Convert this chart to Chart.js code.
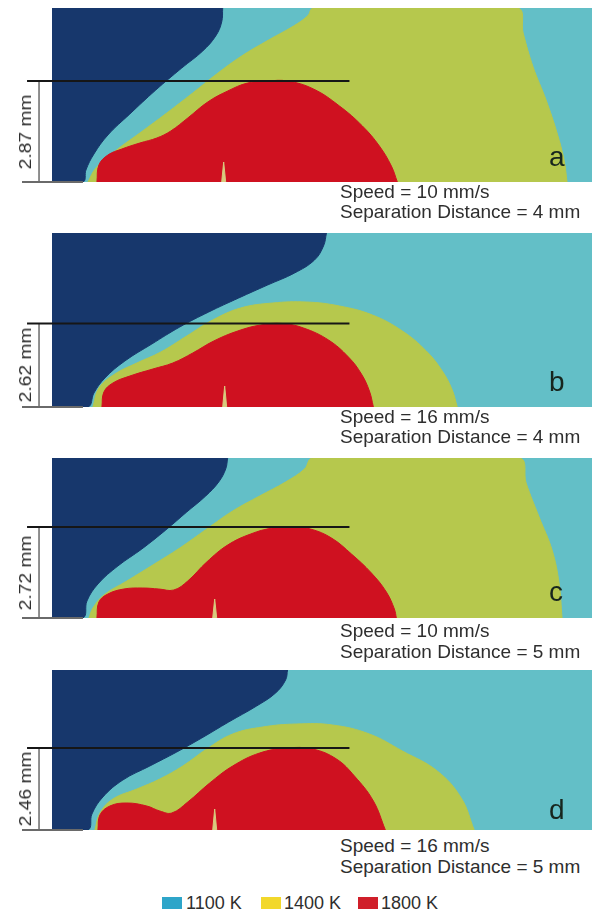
<!DOCTYPE html>
<html>
<head>
<meta charset="utf-8">
<script src="https://cdn.jsdelivr.net/npm/chart.js@4.4.0/dist/chart.umd.min.js"></script>
<style>
  body { margin: 0; background: #fff; width: 601px; height: 911px; position: relative; overflow: hidden;
         font-family: "Liberation Sans", Arial, sans-serif; color: #333; }
  canvas { position: absolute; }
  .txt { position: absolute; white-space: nowrap; }
  .cond { font-size: 19px; line-height: 19px; left: 340px; color: #2e2e2e; }
  .letter { font-size: 28px; line-height: 28px; left: 549px; color: #17261e; }
  .dim { font-size: 16px; line-height: 16px; left: 26px; color: #2e2e2e; }
  .leg { font-size: 18px; line-height: 18px; top: 894px; color: #2e2e2e; }
  .sw { position: absolute; top: 897px; width: 20px; height: 12px; }
</style>
</head>
<body>
<script>
// ===== DATA ===== //
const PANEL_LABELS = ["a", "b", "c", "d"];
const SPEEDS = [10, 16, 10, 16];           // mm/s
const SEPARATIONS = [4, 4, 5, 5];          // mm
const MELT_DEPTHS = [2.87, 2.62, 2.72, 2.46]; // mm, measured depth
const MEASURE_LEVEL = [101, 83.5, 91, 82]; // height of the black reference line
const LEGEND_LABELS = ["1100 K", "1400 K", "1800 K"];

// isotherm boundaries [x, y]
const NAVY_A = [[0,0],[31,0],[34,12],[42,28],[56,47],[78,68],[104,92],[130,114],[151,131],[164,146],[170,160],[171,174]];
const OLIVE_A = [[36,0],[44,14],[62,30],[88,49],[115,69],[141,89],[165,108],[190,126],[217,142],[242,156],[256,166],[262,174],[466,174],[472,149],[482,115],[495,82],[506,49],[513,22],[516,0]];
const RED_A = [[45,0],[47,17],[56,27],[70,33],[88,39],[105,44],[119,51],[136,64],[156,80],[176,91],[196,99],[216,101],[236,101],[262,93],[288,76],[311,56],[328,36],[340,16],[346,0]];
const NOTCH_A = [[170,0],[172,20],[174,0]];

const NAVY_B = [[0,0],[36,0],[42,14],[53,29],[73,46],[100,63],[128,80],[157,95],[187,109],[216,122],[243,134],[263,147],[272,161],[275,174]];
const OLIVE_B = [[41,0],[47,19],[63,33],[85,44],[109,55],[135,71],[161,87],[189,99],[221,104],[255,105],[288,101],[321,92],[351,76],[375,56],[391,36],[401,17],[406,0]];
const RED_B = [[50,0],[52,15],[61,24],[78,31],[101,38],[121,44],[141,54],[162,66],[186,76],[209,82],[231,83.5],[252,79],[277,67],[297,50],[310,33],[318,16],[322,0]];
const NOTCH_B = [[171,0],[173,21],[175,0]];

const NAVY_C = [[0,0],[31,0],[35,17],[46,34],[66,52],[90,69],[114,88],[135,106],[154,122],[167,136],[174,149],[176,160]];
const OLIVE_C = [[37,0],[41,10],[52,23],[75,37],[101,53],[128,70],[155,89],[181,107],[208,122],[234,136],[253,149],[261,160],[468,160],[475,135],[488,101],[501,68],[508,35],[511,0]];
const RED_C = [[45,0],[47,16],[56,24],[72,29],[91,30],[107,29],[122,28],[136,37],[155,56],[176,73],[199,84],[221,90],[241,91],[259,89],[280,80],[300,64],[320,45],[335,26],[343,9],[345,0]];
const NOTCH_C = [[161,0],[163,19],[165,0]];

const NAVY_D = [[0,0],[36,0],[40,16],[51,33],[71,50],[98,64],[125,78],[150,92],[177,108],[205,124],[224,137],[234,150],[236,160]];
const OLIVE_D = [[43,0],[48,17],[61,31],[85,41],[108,51],[131,64],[155,81],[181,96],[211,103],[245,106],[281,105],[318,96],[351,79],[386,59],[410,32],[423,0]];
const RED_D = [[46,0],[48,15],[58,24],[75,27],[95,24],[108,19],[120,17],[136,28],[158,47],[181,64],[208,77],[235,82],[261,81],[285,71],[303,54],[322,29],[334,0]];
const NOTCH_D = [[161,0],[163,21],[165,0]];

const NAVY = [NAVY_A, NAVY_B, NAVY_C, NAVY_D];
const OLIVE = [OLIVE_A, OLIVE_B, OLIVE_C, OLIVE_D];
const RED = [RED_A, RED_B, RED_C, RED_D];
const NOTCH = [NOTCH_A, NOTCH_B, NOTCH_C, NOTCH_D];

// ===== LAYOUT ===== //
const PANEL_TOPS = [8, 233, 458, 670];
const PANEL_HEIGHTS = [174, 174, 160, 160];
const PANEL_WIDTH = 541;
const COND_BASELINES = [[198, 218], [423, 443], [637, 658], [852, 873]];
const LETTER_BASELINES = [167, 392, 602, 820];

const COLORS = {
  navy: "#17376c",
  cyan: "#63bfc7",
  olive: "#b6c84d",
  red: "#cf1120",
  notch: "#d8cb7e",
  line: "#161616",
  gray: "#6a6a6a"
};
const LEGEND_COLORS = ["#2ea5c9", "#f2d82b", "#d01f2a"];

function pts(arr) {
  return arr.map(p => ({ x: p[0], y: p[1] }));
}

function region(arr, color, fill, tension) {
  return {
    data: pts(arr),
    backgroundColor: color,
    borderColor: color,
    borderWidth: 1,
    pointRadius: 0,
    tension: tension,
    fill: fill
  };
}

function addText(cls, text, left, top, extra) {
  const d = document.createElement("div");
  d.className = "txt " + cls;
  d.textContent = text;
  if (left !== null) d.style.left = left + "px";
  d.style.top = top + "px";
  if (extra) Object.assign(d.style, extra);
  document.body.appendChild(d);
  return d;
}

function buildPanel(i) {
  const H = PANEL_HEIGHTS[i];
  const canvas = document.createElement("canvas");
  canvas.width = 575;
  canvas.height = H + 10;
  canvas.style.left = "22px";
  canvas.style.top = (PANEL_TOPS[i] - 5) + "px";
  document.body.appendChild(canvas);

  const lvl = MEASURE_LEVEL[i];
  const datasets = [
    { // reference line at the top of the melt pool
      data: pts([[-25, lvl], [298, lvl]]),
      borderColor: COLORS.line, borderWidth: 2, pointRadius: 0, fill: false, clip: false
    },
    { // dimension arrow
      data: pts([[-13, 0], [-13, lvl]]),
      borderColor: COLORS.gray, borderWidth: 1.5, fill: false, clip: false,
      pointStyle: "triangle", pointRadius: 3.5, pointRotation: [180, 0],
      pointBackgroundColor: COLORS.gray, pointBorderColor: COLORS.gray, pointBorderWidth: 1
    },
    { // base tick
      data: pts([[-32, 0], [31, 0]]),
      borderColor: COLORS.gray, borderWidth: 2, pointRadius: 0, fill: false, clip: false
    },
    region(NOTCH[i], COLORS.notch, { value: 0 }, 0),
    region(RED[i], COLORS.red, { value: 0 }, 0.4),
    region(NAVY[i], COLORS.navy, { value: H }, 0.4),
    region(OLIVE[i], COLORS.olive, { value: 0 }, 0.4),
    region([[0, H], [PANEL_WIDTH, H]], COLORS.cyan, { value: 0 }, 0)
  ];

  new Chart(canvas, {
    type: "line",
    data: { datasets },
    options: {
      responsive: false,
      animation: false,
      devicePixelRatio: 1,
      events: [],
      layout: { padding: { left: 30, right: 4, top: 5, bottom: 5 } },
      plugins: { legend: { display: false }, tooltip: { enabled: false } },
      scales: {
        x: { type: "linear", min: 0, max: PANEL_WIDTH, display: false },
        y: { type: "linear", min: 0, max: H, display: false }
      }
    }
  });

  // texts
  const cb = COND_BASELINES[i];
  addText("cond", "Speed = " + SPEEDS[i] + " mm/s", null, cb[0] - 16);
  addText("cond", "Separation Distance = " + SEPARATIONS[i] + " mm", null, cb[1] - 16);
  addText("letter", PANEL_LABELS[i], null, LETTER_BASELINES[i] - 24);
  const bottom = PANEL_TOPS[i] + H;
  const cy = bottom - lvl / 2;
  addText("dim", MELT_DEPTHS[i].toFixed(2) + " mm", null, cy,
    { transform: "translate(-50%, -50%) rotate(-90deg) scaleX(1.2)" });
}

function buildLegend() {
  const swatchX = [162, 261, 358];
  const textX = [186, 284, 381];
  LEGEND_LABELS.forEach((lab, k) => {
    const s = document.createElement("div");
    s.className = "sw";
    s.style.left = swatchX[k] + "px";
    s.style.background = LEGEND_COLORS[k];
    document.body.appendChild(s);
    addText("leg", lab, textX[k], 894);
  });
}

for (let i = 0; i < 4; i++) buildPanel(i);
buildLegend();
</script>
</body>
</html>
